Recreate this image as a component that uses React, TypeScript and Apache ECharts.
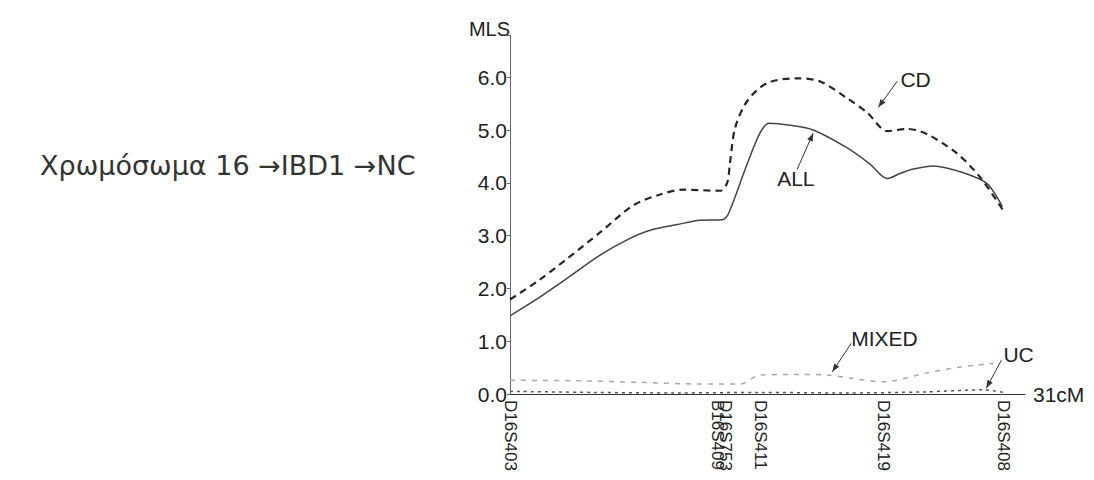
import React, { useEffect, useRef } from "react";
import * as echarts from "echarts";

// Marker positions (cM) and names
const markerPos = [0, 12.5, 13.0, 15.1, 22.5, 29.7];
const markerNames = ["D16S403", "B16S409", "D16S753", "D16S411", "D16S419", "D16S408"];

// Series values: [cM, MLS]
const allData: [number, number][] = [
  [0, 1.48], [1.63, 1.8], [3.43, 2.19], [5.42, 2.63], [7.05, 2.92], [8.43, 3.1],
  [10.06, 3.21], [11.45, 3.29], [12.77, 3.3], [13.13, 3.4], [14.28, 4.36], [15.06, 4.95],
  [15.6, 5.13], [16.87, 5.09], [18.25, 5.0], [20.3, 4.66], [21.69, 4.35], [22.71, 4.08],
  [23.5, 4.18], [24.28, 4.26], [25.48, 4.32], [27.29, 4.19], [28.73, 3.98], [29.64, 3.55],
];
const cdData: [number, number][] = [
  [0, 1.79], [1.63, 2.13], [3.43, 2.56], [5.42, 3.06], [7.41, 3.57], [9.04, 3.78],
  [10.42, 3.87], [12.65, 3.85], [13.07, 4.0], [13.25, 4.4], [13.55, 5.04], [14.28, 5.55],
  [15.48, 5.89], [17.29, 5.98], [18.67, 5.92], [20.3, 5.6], [21.5, 5.33], [22.71, 4.98],
  [23.92, 5.02], [25.12, 4.92], [26.93, 4.55], [28.31, 4.1], [29.7, 3.47],
];
const mixedData: [number, number][] = [
  [0, 0.26], [4.2, 0.25], [7.8, 0.22], [11.45, 0.19], [13.86, 0.19], [15.06, 0.36],
  [17.5, 0.37], [19.1, 0.36], [20.5, 0.3], [22.47, 0.23], [25.1, 0.4], [27.1, 0.51], [29.1, 0.58],
];
const ucData: [number, number][] = [
  [0, 0.05], [5, 0.03], [10, 0.02], [15, 0.03], [20, 0.02], [25, 0.04], [28.5, 0.08], [29.7, 0.03],
];

const yTicks = [0, 1, 2, 3, 4, 5, 6];

// Annotations: label anchor and arrow in data coords
const annotations = [
  { text: "CD", at: [23.5, 5.96], from: [23.3, 5.92], to: [22.17, 5.43] },
  { text: "ALL", at: [16.08, 4.08], from: [17.29, 4.26], to: [18.25, 4.94] },
  { text: "MIXED", at: [20.54, 1.06], from: [20.54, 0.96], to: [19.4, 0.42] },
  { text: "UC", at: [29.7, 0.74], from: [29.58, 0.64], to: [28.67, 0.11] },
];

const title = "Χρωμόσωμα 16 →IBD1 →NC";

export default function App() {
  const ref = useRef<HTMLDivElement>(null);
  useEffect(() => {
    if (!ref.current) return;
    const chart = echarts.init(ref.current, null, { renderer: "svg" });
    const font = "'Liberation Sans', Arial, sans-serif";
    chart.setOption({
      animation: false,
      backgroundColor: "#ffffff",
      textStyle: { fontFamily: font },
      grid: { left: 510, right: 69, top: 35, bottom: 86 },
      xAxis: {
        type: "value",
        min: 0,
        max: 31,
        name: "31cM",
        nameLocation: "end",
        nameGap: 8,
        nameTextStyle: { fontSize: 21, color: "#222", fontFamily: font },
        axisLine: { show: true, lineStyle: { color: "#333", width: 1.2 } },
        axisTick: { show: false },
        splitLine: { show: false },
        axisLabel: {
          customValues: markerPos,
          rotate: -90,
          margin: 6,
          fontSize: 17,
          color: "#222",
          fontFamily: font,
          hideOverlap: false,
          formatter: (v: number, i: number) => {
            const k = markerPos.indexOf(v);
            return markerNames[k >= 0 ? k : i] ?? "";
          },
        },
      },
      yAxis: {
        type: "value",
        min: 0,
        max: 6.8,
        interval: 1,
        name: "MLS",
        nameLocation: "end",
        nameGap: 6,
        nameTextStyle: { fontSize: 20, color: "#222", align: "right", verticalAlign: "middle", fontFamily: font },
        axisLine: { show: true, lineStyle: { color: "#666", width: 1 } },
        axisTick: { show: true, length: 3, lineStyle: { color: "#666" } },
        splitLine: { show: false },
        axisLabel: {
          margin: 3,
          fontSize: 21,
          color: "#222",
          fontFamily: font,
          formatter: (v: number) => (yTicks.includes(Math.round(v * 10) / 10) ? v.toFixed(1) : ""),
        },
      },
      series: [
        {
          name: "CD", type: "line", data: cdData, smooth: 0.3, symbol: "none",
          lineStyle: { color: "#262626", width: 2.2, type: [7, 5] },
        },
        {
          name: "ALL", type: "line", data: allData, smooth: 0.3, symbol: "none",
          lineStyle: { color: "#444", width: 1.5 },
        },
        {
          name: "MIXED", type: "line", data: mixedData, smooth: 0.3, symbol: "none",
          lineStyle: { color: "#a8a8a8", width: 1.5, type: [5, 6] },
        },
        {
          name: "UC", type: "line", data: ucData, smooth: 0.3, symbol: "none",
          lineStyle: { color: "#555", width: 1.5, type: [3, 4] },
        },
      ],
    });

    const toPx = (p: number[]) => chart.convertToPixel({ gridIndex: 0 }, p) as number[];
    const graphics: any[] = [
      {
        type: "text",
        left: 40,
        top: 152,
        style: { text: title, fontSize: 27, fill: "#333", fontFamily: "'DejaVu Sans', Verdana, sans-serif" },
      },
    ];
    annotations.forEach((a) => {
      const at = toPx(a.at);
      const f = toPx(a.from);
      const t = toPx(a.to);
      graphics.push({
        type: "text",
        x: at[0],
        y: at[1],
        style: { text: a.text, fontSize: 21, fill: "#222", fontFamily: font, verticalAlign: "middle", align: "left" },
      });
      graphics.push({
        type: "line",
        shape: { x1: f[0], y1: f[1], x2: t[0], y2: t[1] },
        style: { stroke: "#333", lineWidth: 1 },
      });
      const dx = t[0] - f[0];
      const dy = t[1] - f[1];
      const len = Math.hypot(dx, dy) || 1;
      const ux = dx / len;
      const uy = dy / len;
      const hl = 8;
      const hw = 3;
      const bx = t[0] - ux * hl;
      const by = t[1] - uy * hl;
      graphics.push({
        type: "polygon",
        shape: {
          points: [
            [t[0], t[1]],
            [bx - uy * hw, by + ux * hw],
            [bx + uy * hw, by - ux * hw],
          ],
        },
        style: { fill: "#333" },
      });
    });
    chart.setOption({ graphic: graphics });
    return () => chart.dispose();
  }, []);
  return <div ref={ref} style={{ position: "fixed", left: 0, top: 0, width: 1094, height: 480 }} />;
}
